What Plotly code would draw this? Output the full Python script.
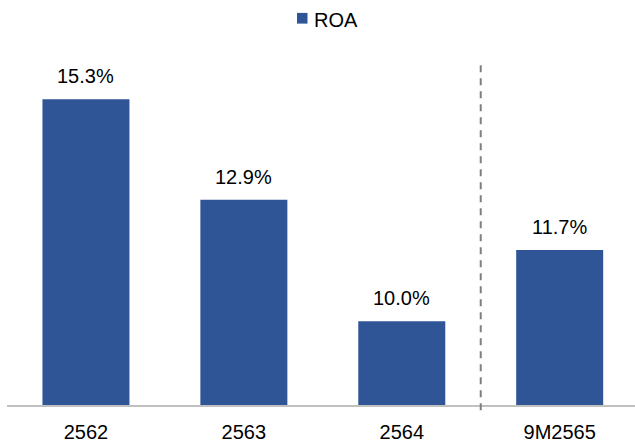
import plotly.graph_objects as go

# ROA by period
periods = ["2562", "2563", "2564", "9M2565"]
roa = [15.3, 12.9, 10.0, 11.7]
series_name = "ROA"

BAR_COLOR = "#2F5597"
FONT = "Arial, Liberation Sans, sans-serif"

fig = go.Figure(
    go.Bar(
        x=periods,
        y=roa,
        marker=dict(color=BAR_COLOR, line=dict(width=0)),
        width=0.551,
        hoverinfo="skip",
        showlegend=False,
    )
)

# value labels above each bar (category index as x position)
for i, v in enumerate(roa):
    fig.add_annotation(
        x=i, y=v, xref="x", yref="y",
        text=f"{v:.1f}%",
        showarrow=False,
        yanchor="bottom",
        yshift=10,
        font=dict(family=FONT, size=20, color="#000000"),
    )

# separator between full years and the 9-month period
fig.add_shape(
    type="line", xref="x", yref="paper",
    x0=2.5, x1=2.5, y0=-0.015, y1=0.963,
    line=dict(color="#7f7f7f", width=2, dash="7px,6px"),
)

# legend: colour swatch + series name
fig.add_shape(
    type="rect", xref="paper", yref="paper",
    x0=0.4618, x1=0.4785, y0=1.0713, y1=1.1014,
    fillcolor=BAR_COLOR, line=dict(width=0),
)
fig.add_annotation(
    x=0.486, y=1.081, xref="paper", yref="paper",
    text=series_name, showarrow=False,
    xanchor="left", yanchor="middle",
    font=dict(family=FONT, size=20, color="#000000"),
)

fig.update_layout(
    width=635, height=448,
    margin=dict(l=7, r=0, t=49.4, b=42.5),
    paper_bgcolor="white",
    plot_bgcolor="white",
    font=dict(family=FONT, size=20, color="#000000"),
    xaxis=dict(
        type="category",
        range=[-0.5, 3.477],
        showline=True, linecolor="#c0c0c0", linewidth=2,
        ticks="", showgrid=False, zeroline=False,
        ticklabelstandoff=8,
        tickfont=dict(family=FONT, size=20, color="#000000"),
    ),
    yaxis=dict(
        range=[8, 16.5],
        visible=False, showgrid=False, zeroline=False,
    ),
)

fig.write_html("out.html")
